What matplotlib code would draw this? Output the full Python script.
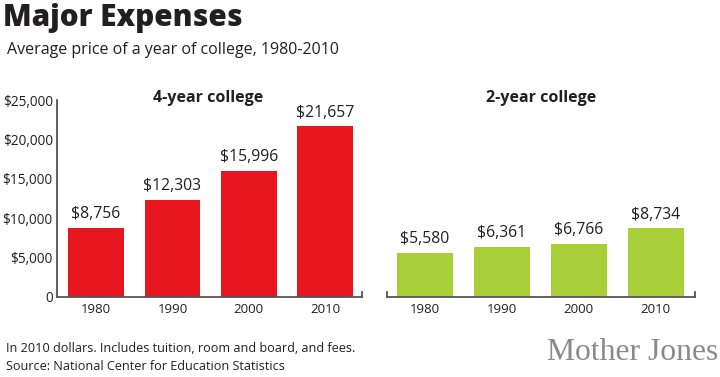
import matplotlib
matplotlib.use("Agg")
import matplotlib.pyplot as plt

years = ["1980", "1990", "2000", "2010"]
four_year = [8756, 12303, 15996, 21657]
two_year = [5580, 6361, 6766, 8734]
yticks = [0, 5000, 10000, 15000, 20000, 25000]
ytick_labels = ["0", "$5,000", "$10,000", "$15,000", "$20,000", "$25,000"]

RED = "#E8161E"
GREEN = "#A8CF38"
TXT = "#231F20"
AX = "#555555"
FONT = ["Open Sans", "DejaVu Sans"]
plt.rcParams["font.family"] = FONT

W, H = 720, 377
fig = plt.figure(figsize=(7.2, 3.77), dpi=100)

def fx(px):
    return px / W

def fy(py):
    return 1 - py / H

ax_h = (297 - 100) / H
ax1 = fig.add_axes([fx(57), fy(297), fx(362 - 57), ax_h])
ax2 = fig.add_axes([fx(387), fy(297), fx(695 - 387), ax_h])

def style(ax, vals, color, left_axis):
    x = list(range(len(vals)))
    ax.bar(x, vals, width=0.73, color=color, zorder=2)
    ax.set_ylim(0, 25000)
    for xi, v in zip(x, vals):
        ax.annotate(f"${v:,}", (xi, v), xytext=(0, 4), textcoords="offset points",
                    ha="center", va="bottom", fontsize=11.3, color=TXT)
    ax.set_xticks(x)
    ax.set_xticklabels(years, fontsize=9.5, color=TXT)
    ax.tick_params(axis="x", length=0, pad=4)
    for s in ["top", "right"]:
        ax.spines[s].set_visible(False)
    ax.spines["bottom"].set_color(AX)
    ax.spines["bottom"].set_linewidth(1.3)
    if left_axis:
        ax.spines["left"].set_color(AX)
        ax.spines["left"].set_linewidth(1.3)
        ax.set_yticks(yticks)
        ax.set_yticklabels(ytick_labels, fontsize=9.8, color=TXT)
        ax.tick_params(axis="y", length=0, pad=3)
        ax.plot([1, 1], [0, 0.025], transform=ax.transAxes, color=AX, lw=1.3, clip_on=False)
    else:
        ax.spines["left"].set_visible(False)
        ax.set_yticks([])
        ax.plot([0, 0], [0, 0.025], transform=ax.transAxes, color=AX, lw=1.3, clip_on=False)
        ax.plot([1, 1], [0, 0.025], transform=ax.transAxes, color=AX, lw=1.3, clip_on=False)
    ax.set_facecolor("none")

style(ax1, four_year, RED, True)
ax1.set_xlim(-0.51, 3.48)
style(ax2, two_year, GREEN, False)
ax2.set_xlim(-0.49, 3.51)

fig.text(fx(208), fy(98), "4-year college", ha="center", va="center", fontsize=11.5,
         fontweight="bold", color=TXT)
fig.text(fx(541), fy(98), "2-year college", ha="center", va="center", fontsize=11.5,
         fontweight="bold", color=TXT)

fig.text(fx(3), fy(18), "Major Expenses", ha="left", va="center", fontsize=21.3,
         fontweight=800, color=TXT)
fig.text(fx(7), fy(50), "Average price of a year of college, 1980-2010", ha="left",
         va="center", fontsize=11.5, color=TXT)
fig.text(fx(6), fy(349), "In 2010 dollars. Includes tuition, room and board, and fees.",
         ha="left", va="center", fontsize=9.1, color=TXT)
fig.text(fx(6), fy(366), "Source: National Center for Education Statistics",
         ha="left", va="center", fontsize=9.1, color=TXT)
fig.text(fx(718), fy(352), "Mother Jones", ha="right", va="center", fontsize=22.8,
         color="#8a8a8a", family=["Liberation Serif", "DejaVu Serif"])

fig.savefig("out.png", dpi=100, facecolor="white")
